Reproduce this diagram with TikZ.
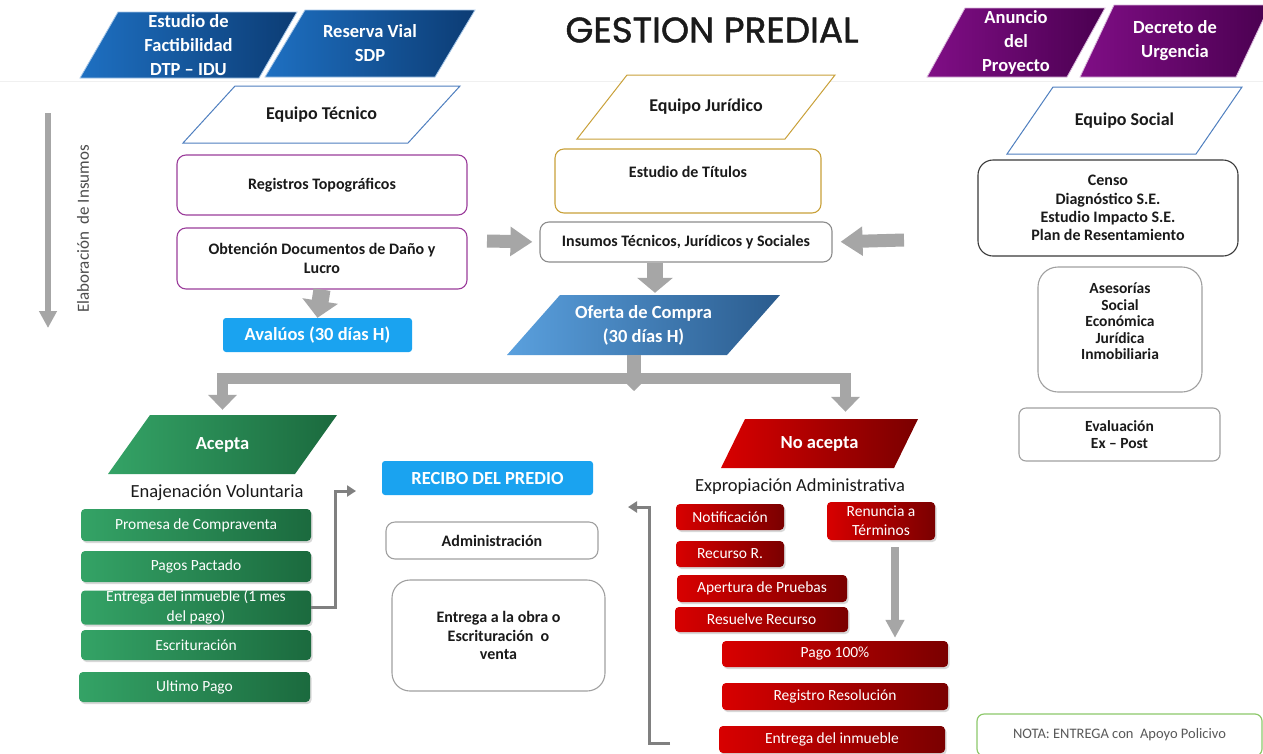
\documentclass[tikz,border=0pt]{standalone}
\usepackage{fontspec}
\usepackage{graphicx}
\setmainfont{Carlito}
\newfontfamily\titlefont[FakeBold=1.3]{Poppins}
\usetikzlibrary{arrows.meta,shadows}

\definecolor{blueA}{HTML}{1E70C2}
\definecolor{blueB}{HTML}{0C3C74}
\definecolor{purpA}{HTML}{800E86}
\definecolor{purpB}{HTML}{4A0050}
\definecolor{ofA}{HTML}{5AA0DE}
\definecolor{ofB}{HTML}{2B5C8E}
\definecolor{greenA}{HTML}{34A366}
\definecolor{greenB}{HTML}{1B6A3E}
\definecolor{redA}{HTML}{D80000}
\definecolor{redB}{HTML}{7A0000}
\definecolor{skyblue}{HTML}{1AA3F0}
\definecolor{eqblue}{HTML}{4F7FBF}
\definecolor{gold}{HTML}{C9A13A}
\definecolor{regpurple}{HTML}{9B3D9B}
\definecolor{lgray}{HTML}{A0A0A0}
\definecolor{insgray}{HTML}{8C8C8C}
\definecolor{darkb}{HTML}{3A3A3A}
\definecolor{arrgray}{HTML}{A6A6A6}
\definecolor{thingray}{HTML}{808080}
\definecolor{notagreen}{HTML}{8DC86A}
\definecolor{txt}{HTML}{1A1A1A}

\newcommand{\fsz}[2]{\fontsize{#1}{#2}\selectfont}
% box: name, style, x1, y1, x2, y2, text
\newcommand{\bx}[7]{\node[#2, minimum width={(#5-#3)*1pt}, minimum height={(#6-#4)*1pt}] (#1) at ({(#3+#5)/2},{(#4+#6)/2}) {#7};}
% parallelogram: name, path style, node style, xtl, xtr, ytop, slant, ybot, text
\newcommand{\para}[9]{%
  \path[#2] (#4,#6) -- (#5,#6) -- ({#5-#7},#8) -- ({#4-#7},#8) -- cycle;
  \node[#3, minimum width={(#5-#4)*1pt}, minimum height={(#8-#6)*1pt}] (#1) at ({(#4+#5-#7)/2},{(#6+#8)/2}) {#9};}

\tikzset{
  every node/.style={inner sep=0pt, align=center, text=txt},
  ptw/.style={text=white, font=\bfseries\fsz{18.5}{24}},
  ptb/.style={text=txt, font=\bfseries\fsz{18}{22}},
  blueP/.style={left color=blueA, right color=blueB, draw=blueA!40!white, line width=0.8pt},
  purpP/.style={left color=purpA, right color=purpB, draw=purpA!30!white, line width=0.8pt},
  ofP/.style={left color=ofA, right color=ofB},
  greenP/.style={left color=greenA, right color=greenB},
  redP/.style={left color=redA, right color=redB},
  outP/.style={draw=#1, line width=1pt, fill=white},
  wbox/.style={draw, rounded corners=9pt, line width=1.1pt, fill=white, font=\bfseries\fsz{16}{18.3}},
  bluebox/.style={fill=skyblue, rounded corners=3pt, text=white, font=\bfseries\fsz{18.5}{22}},
  gbox/.style={left color=greenA, right color=greenB, rounded corners=4pt, text=white, font=\fsz{15.5}{20},
     drop shadow={shadow xshift=1.5pt, shadow yshift=-2pt, opacity=0.3}},
  rbox/.style={left color=redA, right color=redB, rounded corners=4pt, text=white, font=\fsz{15.5}{19},
     drop shadow={shadow xshift=1.5pt, shadow yshift=-2pt, opacity=0.3}},
  lbl/.style={font=\fsz{18.5}{21}, text=txt},
  blk/.style={draw=arrgray, line width=#1, line join=miter},
  thinarr/.style={draw=thingray, line width=3pt, -{Triangle[width=11pt,length=9pt]}},
}

\begin{document}
\begin{tikzpicture}[x=1pt, y=-1pt]
\useasboundingbox (0,0) rectangle (1263,753);
\fill[white] (0,0) rectangle (1263,753);
\draw[black!6, line width=1pt] (0,81) -- (1263,81);

% ---------- top banners ----------
\para{fact}{blueP}{ptw}{118}{297}{12}{38}{78}{Estudio de\\Factibilidad\\DTP – IDU}
\para{reserva}{blueP}{ptw}{305}{475}{10}{40}{77}{Reserva Vial\\SDP}
\para{anuncio}{purpP}{ptw}{965}{1105}{8}{38}{77}{Anuncio\\del\\Proyecto}
\para{decreto}{purpP}{ptw}{1114}{1270}{5}{34}{77}{Decreto de\\Urgencia}
\node (title) at (712,30) {\resizebox{293pt}{25pt}{\titlefont GESTION PREDIAL}};

% ---------- left column ----------
\coordinate (elabtop) at (48,113);
\coordinate (elabbot) at (48,328);
\draw[blk=6pt, -{Triangle[width=17pt,length=17pt]}] (elabtop) -- (elabbot);
\node[rotate=90, font=\fsz{17}{19}, text=black!70] (elab) at (83,229) {Elaboración~ de Insumos};

\para{eqtec}{outP=eqblue}{ptb}{235}{460}{86}{52}{143}{Equipo Técnico}
\bx{regtop}{wbox, draw=regpurple}{177}{155}{467}{215}{Registros Topográficos}
\bx{obt}{wbox, draw=regpurple}{177}{228}{467}{289}{Obtención Documentos de Daño y\\Lucro}
\bx{aval}{bluebox}{223}{318}{412}{352}{Avalúos (30 días H)}
\draw[blk=17pt, -{Triangle[width=35pt,length=17pt]}] (obt.south) -- (aval.north);

% ---------- center column ----------
\para{eqjur}{outP=gold}{ptb}{627}{835}{75}{50}{139}{Equipo Jurídico}
\bx{titulos}{wbox, draw=gold}{555}{149}{821}{213}{Estudio de Títulos\\\mbox{}}
\bx{insumos}{wbox, draw=insgray}{540}{222}{832}{262}{Insumos Técnicos, Jurídicos y Sociales}
\para{oferta}{ofP}{ptw}{560}{780}{295}{53}{355}{Oferta de Compra\\(30 días H)}

\coordinate (inL) at (487,241);
\coordinate (inR) at (904,240);
\draw[blk=13pt, -{Triangle[width=28pt,length=22pt]}, shorten >=7pt] (inL) -- (insumos.west);
\draw[blk=13pt, -{Triangle[width=28pt,length=22pt]}, shorten >=8pt] (inR) -- (insumos.east);
\coordinate (dnx) at (655,0);
\draw[blk=16pt, -{Triangle[width=35pt,length=15pt]}, shorten >=2pt] (insumos.south -| dnx) -- (oferta.north -| dnx);

% ---------- branches ----------
\para{acepta}{greenP}{ptw}{150}{337}{415}{42}{474}{Acepta}
\para{noacepta}{redP}{ptw}{745}{918}{419}{24}{468}{No acepta}
\coordinate (split) at (634,378);
\coordinate (stemx) at (634,0);
\draw[blk=14pt, -{Triangle[width=16pt,length=8pt]}] (oferta.south -| stemx) -- (634,391);
\draw[blk=11pt, -{Triangle[width=28pt,length=15pt]}, shorten >=5pt] (split) -| (acepta.north);
\draw[blk=11pt, -{Triangle[width=28pt,length=15pt]}, shorten >=7pt] (split) -| ([xshift=26pt]noacepta.north);

% ---------- Acepta side ----------
\node[lbl] (enaj) at (217,493) {Enajenación Voluntaria};
\bx{prom}{gbox}{81}{509}{311}{541}{Promesa de Compraventa}
\bx{pagos}{gbox}{81}{551}{311}{582}{Pagos Pactado}
\bx{gent}{gbox}{81}{592}{311}{623}{Entrega del inmueble (1 mes\\del pago)}
\bx{escr}{gbox}{81}{630}{311}{660}{Escrituración}
\bx{ultimo}{gbox}{79}{672}{310}{702}{Ultimo Pago}

% ---------- Recibo ----------
\bx{recibo}{bluebox}{382}{461}{593}{495}{RECIBO DEL PREDIO}
\bx{admin}{wbox, draw=lgray}{386}{522}{598}{559}{Administración}
\bx{entobra}{wbox, draw=lgray, rounded corners=18pt}{392}{580}{605}{691}{Entrega a la obra o\\Escrituración~ o\\venta}
\coordinate (recL) at (356,491);
\draw[thinarr] (gent.east) -- ++(24,0) |- (recL);

% ---------- No acepta side ----------
\node[lbl] (expro) at (800,487) {Expropiación Administrativa};
\bx{notif}{rbox}{676}{504}{784}{530}{Notificación}
\bx{renun}{rbox}{827}{502}{935}{540}{Renuncia a\\Términos}
\bx{recur}{rbox}{676}{541}{784}{567}{Recurso R.}
\bx{apert}{rbox}{677}{575}{847}{602}{Apertura de Pruebas}
\bx{resuel}{rbox}{675}{607}{848}{632}{Resuelve Recurso}
\bx{pago}{rbox}{722}{641}{948}{667}{Pago 100\%}
\bx{regres}{rbox}{722}{683}{948}{710}{Registro Resolución}
\bx{rent}{rbox}{719}{726}{945}{753}{Entrega del inmueble}
\coordinate (renx) at (895,0);
\draw[blk=8pt, -{Triangle[width=18pt,length=18pt]}, shorten <=7pt, shorten >=3pt] (renun.south -| renx) -- (pago.north -| renx);
\coordinate (retS) at (670,743);
\coordinate (retE) at (628,507);
\draw[thinarr] (retS) -- (649,743) |- (retE);

% ---------- right column ----------
\para{eqsoc}{outP=eqblue}{ptb}{1053}{1242}{87}{46}{154}{Equipo Social}
\bx{censo}{wbox, draw=darkb, rounded corners=15pt}{978}{160}{1238}{256}{Censo\\Diagnóstico S.E.\\Estudio Impacto S.E.\\Plan de Resentamiento}
\bx{ases}{wbox, draw=lgray, rounded corners=20pt, font=\bfseries\fsz{15.5}{16.5}}{1038}{267}{1202}{392}{Asesorías\\Social\\Económica\\Jurídica\\Inmobiliaria\\\mbox{}}
\bx{evalu}{wbox, draw=lgray, rounded corners=7pt, font=\bfseries\fsz{15.5}{17}}{1019}{408}{1220}{461}{Evaluación\\Ex – Post}
\bx{nota}{draw=notagreen, line width=1.2pt, rounded corners=7pt, font=\fsz{14.5}{16}, text=black!65}{977}{714}{1262}{756}{NOTA: ENTREGA con~ Apoyo Policivo}
\end{tikzpicture}
\end{document}
